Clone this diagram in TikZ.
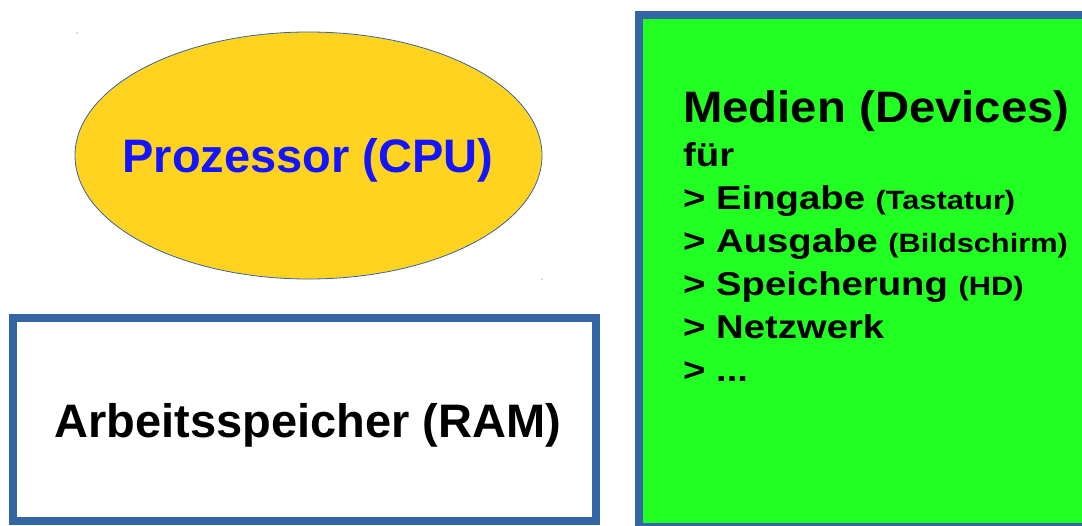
\documentclass[tikz,border=0pt]{standalone}
\usepackage{fontspec}
\setmainfont{Liberation Sans}
\newfontfamily\devfont[FakeStretch=1.16]{Liberation Sans}
\newfontfamily\headfont[FakeStretch=1.075]{Liberation Sans}
\definecolor{lineblue}{HTML}{3465A4}
\definecolor{cpuyellow}{HTML}{FFD320}
\definecolor{devgreen}{HTML}{22FF22}
\definecolor{cpublue}{HTML}{1414FF}
\tikzset{
  box/.style={draw=lineblue, line width=8pt},
  bigtext/.style={anchor=base, inner sep=0pt, font=\bfseries\fontsize{47}{50}\selectfont},
  devline/.style={anchor=base west, inner sep=0pt, font=\devfont\bfseries\fontsize{33}{36}\selectfont},
}
\newcommand{\smalldev}[1]{{\fontsize{26.5}{30}\selectfont #1}}
\begin{document}
\begin{tikzpicture}[x=1pt, y=-1pt]
			%%%%% START %%%%%
			\useasboundingbox (0, 0) rectangle (1082, 525);
			
			\draw[draw=lineblue, line width=0.8pt, fill=cpuyellow] (308.5, 155.5) ellipse (233.5 and 123.5);
			\fill[lineblue] (77, 33) circle (0.7);
			\fill[lineblue] (542, 279) circle (0.7);
			\node[bigtext, text=cpublue] (cpu) at (308, 172) {Prozessor (CPU)};
			
			\draw[box, fill=white] (12.5, 317.5) rectangle (596, 521);
			\node[bigtext] (ram) at (308, 437) {Arbeitsspeicher (RAM)};
			
			\draw[box, fill=devgreen] (638.5, 14.5) rectangle (1120, 527);
			
			\node[devline, font=\headfont\bfseries\fontsize{44}{48}\selectfont] (media) at (683, 122) {Medien (Devices)};
			\node[devline] (fuer) at (683, 166) {für};
			\node[devline] (input) at (683, 209) {> Eingabe \smalldev{(Tastatur)}};
			\node[devline] (output) at (683, 252) {> Ausgabe \smalldev{(Bildschirm)}};
			\node[devline] (storage) at (683, 295) {> Speicherung \smalldev{(HD)}};
			\node[devline] (network) at (683, 338) {> Netzwerk};
			\node[devline] (more) at (683, 381) {> ...};
			
			%%%%% END %%%%%
\end{tikzpicture}
\end{document}
